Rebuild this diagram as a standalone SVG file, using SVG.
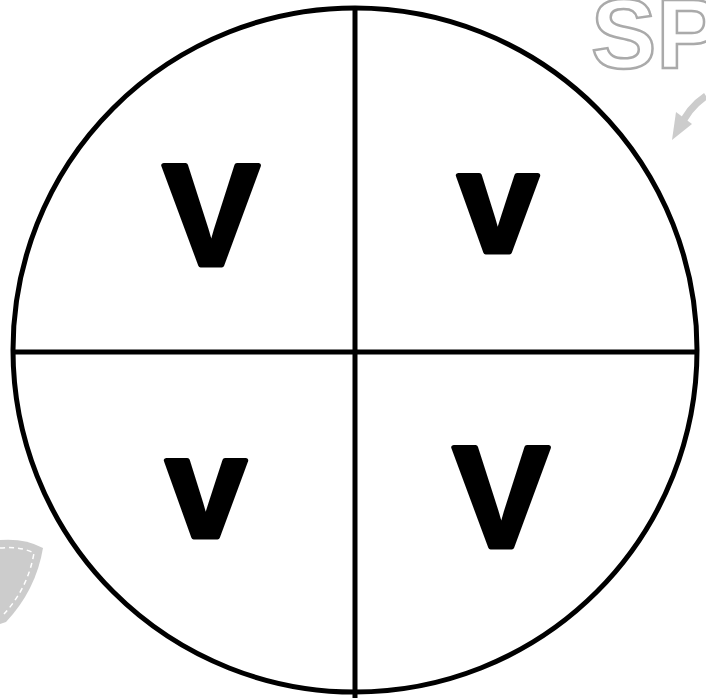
<svg xmlns="http://www.w3.org/2000/svg" width="706" height="698" viewBox="0 0 706 698">
<style>
.letter{font-family:"Liberation Sans",Arial,sans-serif;font-weight:bold;font-size:145px;fill:#000;stroke:#000;stroke-width:5;stroke-linejoin:round;text-anchor:middle}
.deco{fill:#fff;stroke:#aaa;stroke-width:2.5;font-family:"Liberation Sans",Arial,sans-serif;font-weight:bold;font-size:98px}
</style>
<rect width="706" height="698" fill="#fff"/>
<g id="decorations">
<text class="deco" x="591" y="68">SP</text>
<path d="M706,96 Q688,108 680,128" fill="none" stroke="#ccc" stroke-width="7"/>
<polygon points="672,140 676,112 692,124" fill="#ccc"/>
<path d="M0,540 Q25,538 43,548 Q36,590 6,622 L0,624 Z" fill="#ccc"/>
<path d="M0,548 Q20,546 34,553 Q28,588 4,614" fill="none" stroke="#fff" stroke-width="1.5" stroke-dasharray="5,4"/>
</g>
<g id="circle">
<circle cx="355" cy="350" r="342" fill="none" stroke="#000" stroke-width="5"/>
</g>
<g id="connectors">
<line x1="355" y1="8" x2="355" y2="698" stroke="#000" stroke-width="5"/>
<line x1="12" y1="352" x2="698" y2="352" stroke="#000" stroke-width="5"/>
</g>
<g id="q1"><text class="letter" x="211" y="265">V</text></g>
<g id="q2"><text class="letter" x="498" y="252">v</text></g>
<g id="q3"><text class="letter" x="206" y="537">v</text></g>
<g id="q4"><text class="letter" x="501" y="547">V</text></g>
</svg>
